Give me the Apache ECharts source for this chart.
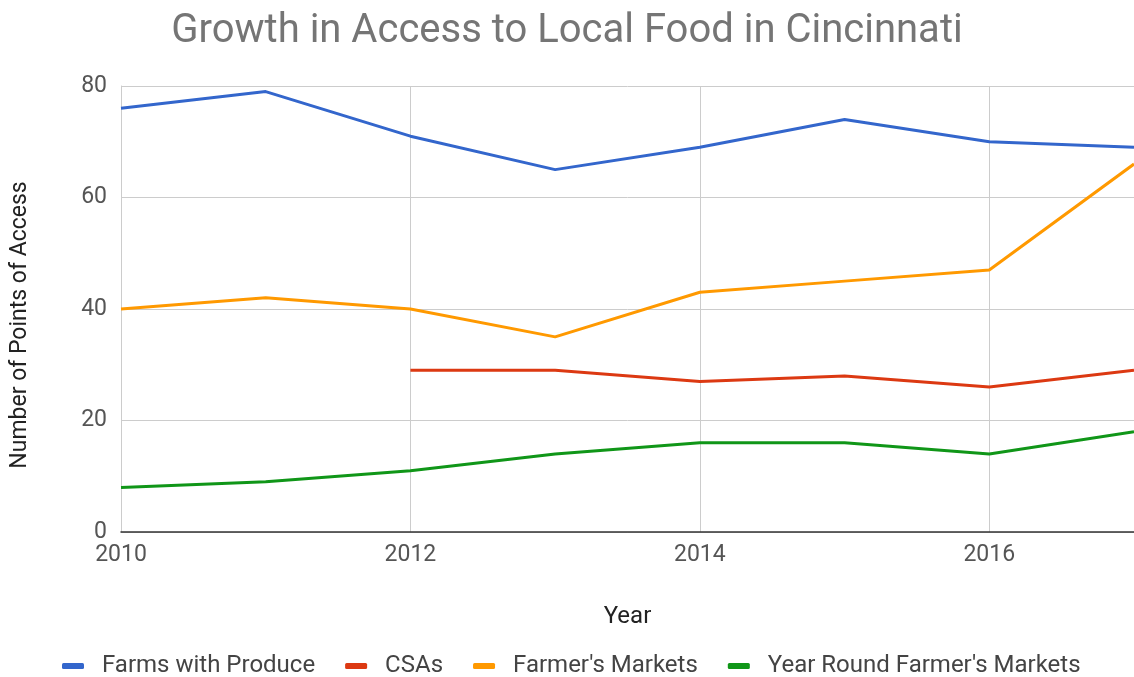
<!DOCTYPE html>
<html>
<head>
<meta charset="utf-8">
<script src="https://cdn.jsdelivr.net/npm/echarts@6/dist/echarts.min.js"></script>
<style>
  html, body { margin: 0; padding: 0; background: #fff; }
  #chart { width: 1134px; height: 677px; }
</style>
</head>
<body>
<div id="chart"></div>
<script>
// Years on the horizontal axis
const years = ['2010', '2011', '2012', '2013', '2014', '2015', '2016', '2017'];

// Points of access per year
const farmsWithProduce = [76, 79, 71, 65, 69, 74, 70, 69];
const csas = [null, null, 29, 29, 27, 28, 26, 29];
const farmersMarkets = [40, 42, 40, 35, 43, 45, 47, 66];
const yearRoundMarkets = [8, 9, 11, 14, 16, 16, 14, 18];

const seriesNames = ['Farms with Produce', 'CSAs', "Farmer's Markets", "Year Round Farmer's Markets"];
const seriesColors = ['#3366cc', '#dc3912', '#ff9900', '#109618'];
const seriesData = [farmsWithProduce, csas, farmersMarkets, yearRoundMarkets];

const font = 'Roboto, "Open Sans", sans-serif';
const chart = echarts.init(document.getElementById('chart'));

chart.setOption({
  animation: false,
  color: seriesColors,
  title: {
    text: 'Growth in Access to Local Food in Cincinnati',
    left: 'center',
    top: 7,
    textStyle: { fontFamily: font, fontSize: 40, fontWeight: 'normal', color: '#757575' }
  },
  legend: {
    bottom: -6,
    left: 57,
    itemWidth: 22,
    itemHeight: 6,
    itemGap: 30,
    icon: 'roundRect',
    textStyle: { fontFamily: font, fontSize: 24, color: '#444', padding: [0, 0, 0, 13] },
    data: seriesNames
  },
  grid: { left: 121, right: -6, top: 86, bottom: 145 },
  xAxis: {
    type: 'category',
    data: years,
    boundaryGap: false,
    name: 'Year',
    nameLocation: 'middle',
    nameGap: 73,
    nameTextStyle: { fontFamily: font, fontSize: 24, color: '#222' },
    axisLine: { show: true, lineStyle: { color: '#333', width: 1.5 } },
    axisTick: { show: false },
    axisLabel: {
      interval: 1,
      margin: 12,
      fontFamily: font,
      fontSize: 23,
      color: '#555'
    },
    splitLine: { show: true, interval: 1, lineStyle: { color: '#cccccc', width: 1 } }
  },
  yAxis: {
    type: 'value',
    min: 0,
    max: 80,
    interval: 20,
    name: 'Number of Points of Access',
    nameLocation: 'middle',
    nameGap: 89,
    nameRotate: 90,
    nameTextStyle: { fontFamily: font, fontSize: 23, color: '#222', padding: [0, 32, 0, 0] },
    axisLine: { show: true, lineStyle: { color: '#cccccc' } },
    axisTick: { show: false },
    axisLabel: { margin: 14, fontFamily: font, fontSize: 23, color: '#555' },
    splitLine: { show: true, lineStyle: { color: '#cccccc', width: 1 } }
  },
  series: seriesNames.map((name, i) => ({
    name: name,
    type: 'line',
    data: seriesData[i],
    symbol: 'none',
    connectNulls: false,
    lineStyle: { width: 3, color: seriesColors[i] },
    itemStyle: { color: seriesColors[i] }
  }))
});
</script>
</body>
</html>
